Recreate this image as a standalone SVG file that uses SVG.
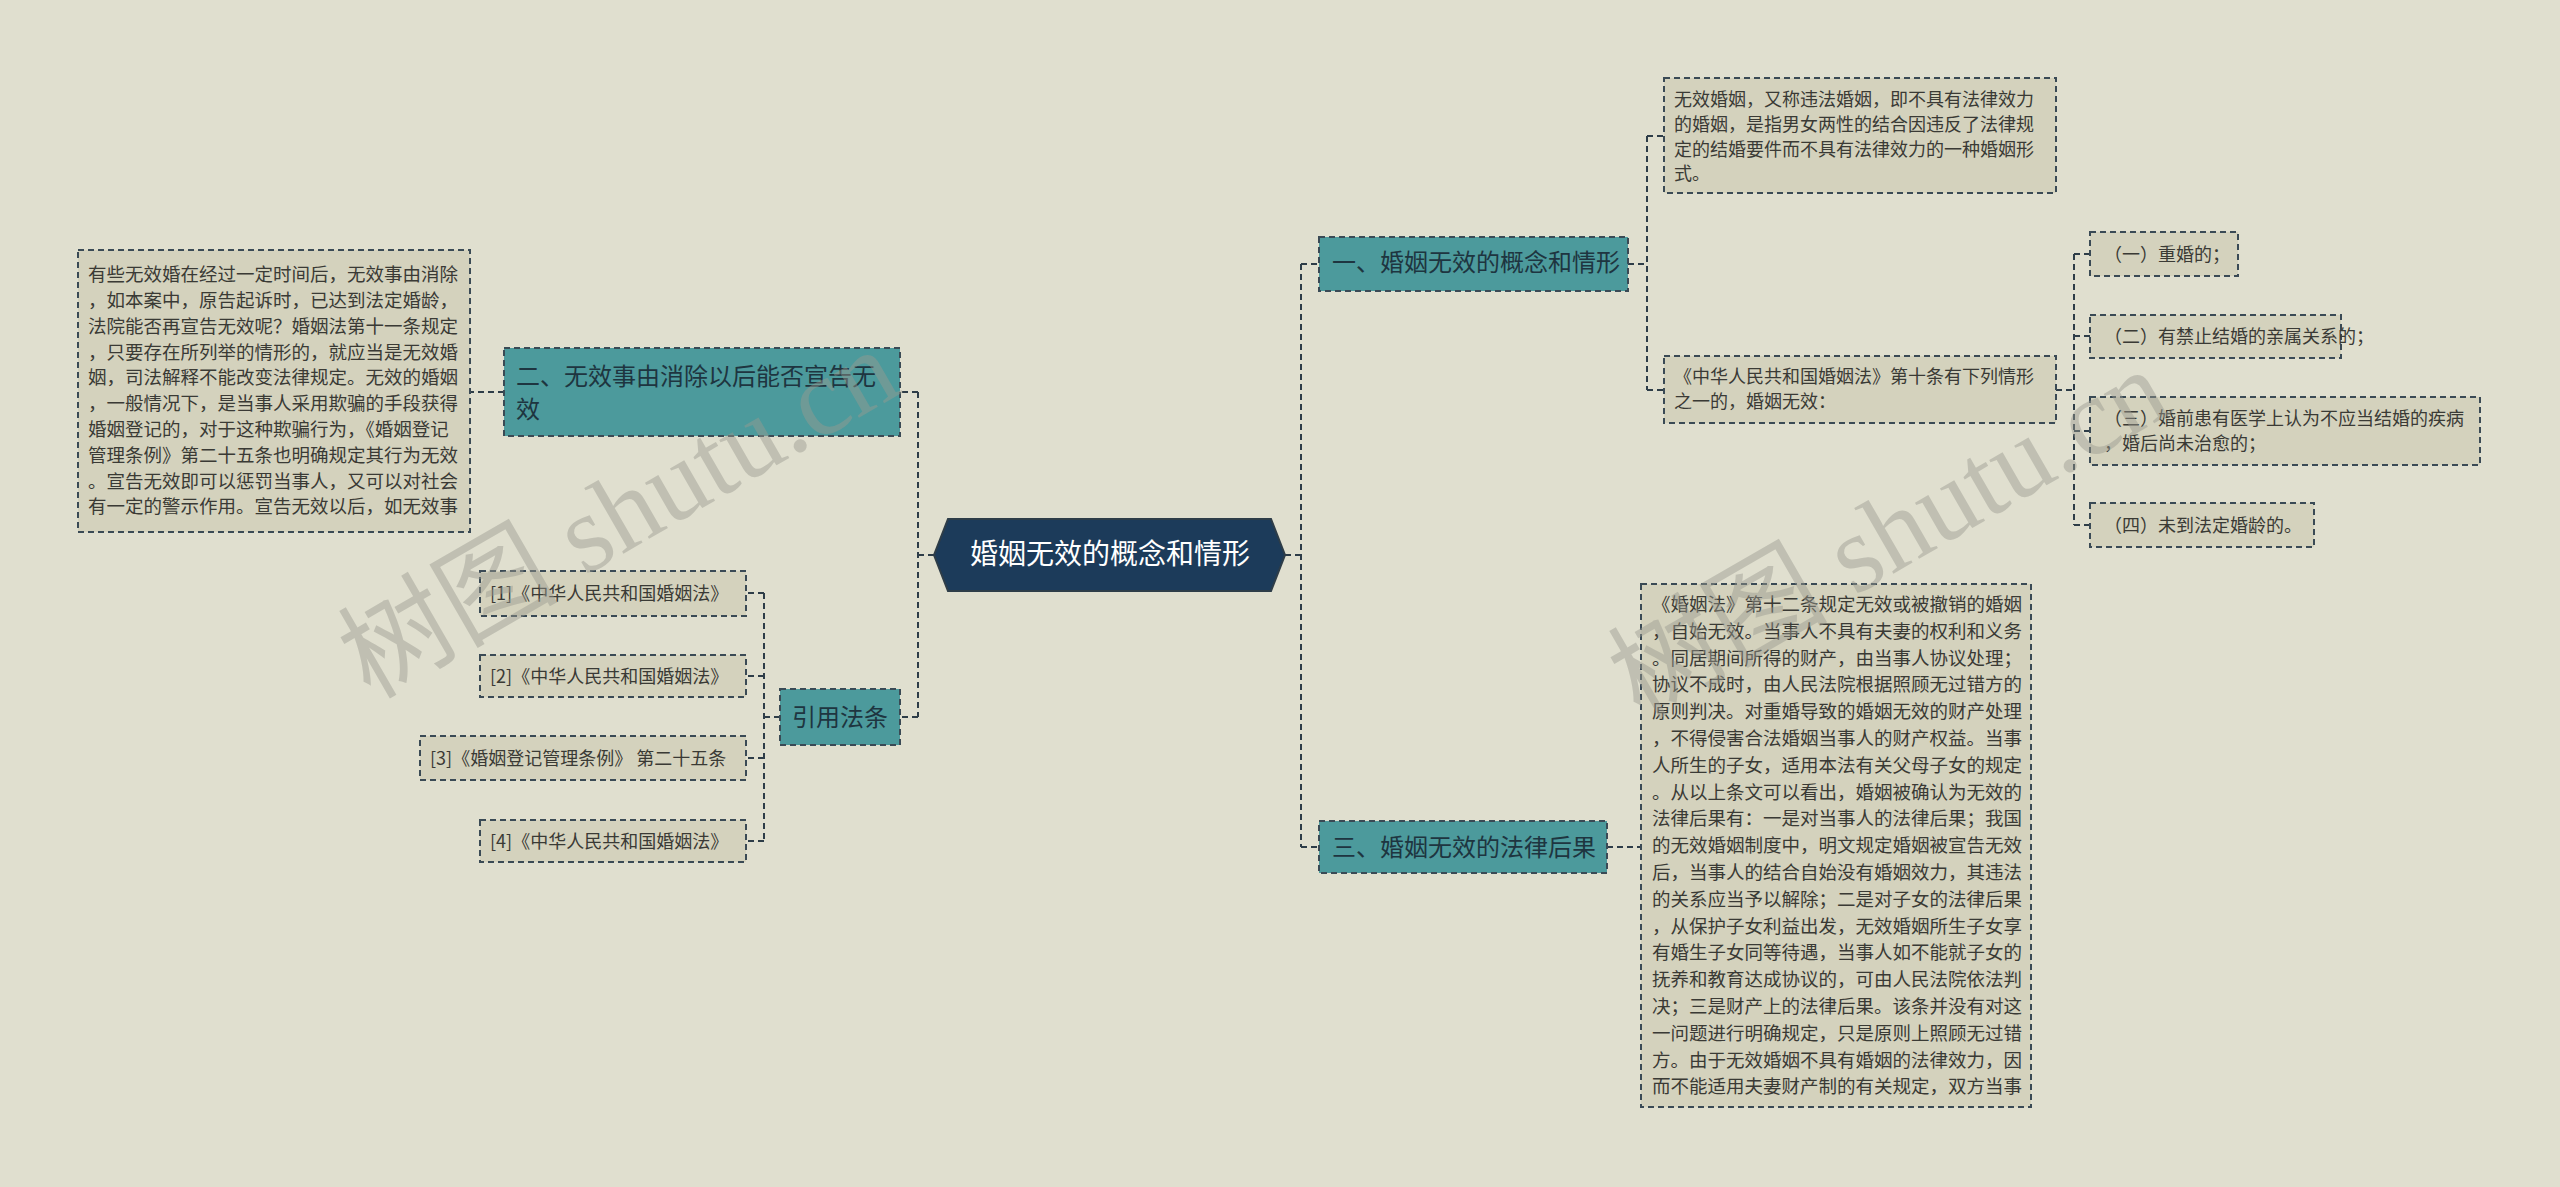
<svg xmlns="http://www.w3.org/2000/svg" width="2560" height="1187" viewBox="0 0 2560 1187">
<style>
text{font-family:"Noto Sans CJK SC","Liberation Sans",sans-serif;fill:#3a3a35}
.box{fill:#d4d2bd;stroke:#3a4a55;stroke-width:2;stroke-dasharray:6 4}
.node{fill:#4c9a9c;stroke:#3a4a55;stroke-width:2;stroke-dasharray:6 4}
.s{font-size:18px}
.n{font-size:24px;fill:#1e3540}
.c{fill:none;stroke:#2e3d48;stroke-width:2;stroke-dasharray:6 4}
.wm{font-size:110px;fill:#9a9a90;opacity:0.45;font-family:"Liberation Serif","Noto Sans CJK SC",serif}
</style>
<rect width="2560" height="1187" fill="#e0dfcf"/>
<g id="connectors">
<path class="c" d="M1285 555H1301M1301 264V847M1301 264H1319M1301 847H1319"/>
<path class="c" d="M934 555H918M918 392V717M918 392H900M918 717H900"/>
<path class="c" d="M1628 264H1647M1647 136V390M1647 136H1664M1647 390H1664"/>
<path class="c" d="M2056 390H2074M2074 254V525M2074 254H2090M2074 336H2090M2074 431H2090M2074 525H2090"/>
<path class="c" d="M1607 847H1641"/>
<path class="c" d="M504 392H470"/>
<path class="c" d="M780 717H764M764 593V841M764 593H746M764 676H746M764 758H746M764 841H746"/>
</g>
<g id="root"><polygon points="948,519 1271,519 1285,555 1271,591 948,591 934,555" fill="#1c3b5a" stroke="#2e3d48" stroke-width="2"/>
<text x="1110" y="564" font-size="28" text-anchor="middle" style="fill:#ffffff">婚姻无效的概念和情形</text></g>
<g id="n1"><rect class="node" x="1319" y="237" width="309" height="54"/><text class="n" x="1332" y="271">一、婚姻无效的概念和情形</text></g>
<g id="n1a"><rect class="box" x="1664" y="78" width="392" height="115"/>
<text class="s" x="1674"><tspan x="1674" y="106">无效婚姻，又称违法婚姻，即不具有法律效力</tspan><tspan x="1674" y="131">的婚姻，是指男女两性的结合因违反了法律规</tspan><tspan x="1674" y="156">定的结婚要件而不具有法律效力的一种婚姻形</tspan><tspan x="1674" y="180">式。</tspan></text></g>
<g id="n1b"><rect class="box" x="1664" y="356" width="392" height="67"/>
<text class="s"><tspan x="1674" y="383">《中华人民共和国婚姻法》第十条有下列情形</tspan><tspan x="1674" y="408">之一的，婚姻无效：</tspan></text></g>
<g id="c1"><rect class="box" x="2090" y="232" width="148" height="44"/><text class="s" x="2104" y="261">（一）重婚的；</text></g>
<g id="c2"><rect class="box" x="2090" y="315" width="251" height="43"/><text class="s" x="2104" y="343">（二）有禁止结婚的亲属关系的；</text></g>
<g id="c3"><rect class="box" x="2090" y="397" width="390" height="68"/><text class="s"><tspan x="2104" y="425">（三）婚前患有医学上认为不应当结婚的疾病</tspan><tspan x="2104" y="450">，婚后尚未治愈的；</tspan></text></g>
<g id="c4"><rect class="box" x="2090" y="503" width="224" height="44"/><text class="s" x="2104" y="532">（四）未到法定婚龄的。</text></g>
<g id="n3"><rect class="node" x="1319" y="821" width="288" height="52"/><text class="n" x="1332" y="856">三、婚姻无效的法律后果</text></g>
<g id="n3a"><rect class="box" x="1641" y="584" width="390" height="523"/>
<text style="font-size:18.5px"><tspan x="1652" y="611">《婚姻法》第十二条规定无效或被撤销的婚姻</tspan><tspan x="1652" y="638">，自始无效。当事人不具有夫妻的权利和义务</tspan><tspan x="1652" y="665">。同居期间所得的财产，由当事人协议处理；</tspan><tspan x="1652" y="691">协议不成时，由人民法院根据照顾无过错方的</tspan><tspan x="1652" y="718">原则判决。对重婚导致的婚姻无效的财产处理</tspan><tspan x="1652" y="745">，不得侵害合法婚姻当事人的财产权益。当事</tspan><tspan x="1652" y="772">人所生的子女，适用本法有关父母子女的规定</tspan><tspan x="1652" y="799">。从以上条文可以看出，婚姻被确认为无效的</tspan><tspan x="1652" y="825">法律后果有：一是对当事人的法律后果；我国</tspan><tspan x="1652" y="852">的无效婚姻制度中，明文规定婚姻被宣告无效</tspan><tspan x="1652" y="879">后，当事人的结合自始没有婚姻效力，其违法</tspan><tspan x="1652" y="906">的关系应当予以解除；二是对子女的法律后果</tspan><tspan x="1652" y="933">，从保护子女利益出发，无效婚姻所生子女享</tspan><tspan x="1652" y="959">有婚生子女同等待遇，当事人如不能就子女的</tspan><tspan x="1652" y="986">抚养和教育达成协议的，可由人民法院依法判</tspan><tspan x="1652" y="1013">决；三是财产上的法律后果。该条并没有对这</tspan><tspan x="1652" y="1040">一问题进行明确规定，只是原则上照顾无过错</tspan><tspan x="1652" y="1067">方。由于无效婚姻不具有婚姻的法律效力，因</tspan><tspan x="1652" y="1093">而不能适用夫妻财产制的有关规定，双方当事</tspan></text>
<text style="font-size:18.5px"><tspan x="1652" y="1093" visibility="hidden"> </tspan></text></g>
<g id="n2"><rect class="node" x="504" y="348" width="396" height="88"/><text class="n"><tspan x="516" y="385">二、无效事由消除以后能否宣告无</tspan><tspan x="516" y="418">效</tspan></text></g>
<g id="n2a"><rect class="box" x="78" y="250" width="392" height="282"/>
<text style="font-size:18.5px"><tspan x="88" y="281">有些无效婚在经过一定时间后，无效事由消除</tspan><tspan x="88" y="307">，如本案中，原告起诉时，已达到法定婚龄，</tspan><tspan x="88" y="333">法院能否再宣告无效呢？婚姻法第十一条规定</tspan><tspan x="88" y="359">，只要存在所列举的情形的，就应当是无效婚</tspan><tspan x="88" y="384">姻，司法解释不能改变法律规定。无效的婚姻</tspan><tspan x="88" y="410">，一般情况下，是当事人采用欺骗的手段获得</tspan><tspan x="88" y="436">婚姻登记的，对于这种欺骗行为，《婚姻登记</tspan><tspan x="88" y="462">管理条例》第二十五条也明确规定其行为无效</tspan><tspan x="88" y="488">。宣告无效即可以惩罚当事人，又可以对社会</tspan><tspan x="88" y="513">有一定的警示作用。宣告无效以后，如无效事</tspan></text></g>
<g id="n4"><rect class="node" x="780" y="689" width="120" height="56"/><text class="n" x="792" y="726">引用法条</text></g>
<g id="r1"><rect class="box" x="480" y="571" width="266" height="45"/><text class="s" x="490" y="600">[1]《中华人民共和国婚姻法》</text></g>
<g id="r2"><rect class="box" x="480" y="655" width="266" height="42"/><text class="s" x="490" y="683">[2]《中华人民共和国婚姻法》</text></g>
<g id="r3"><rect class="box" x="420" y="736" width="326" height="44"/><text class="s" x="430" y="765">[3]《婚姻登记管理条例》 第二十五条</text></g>
<g id="r4"><rect class="box" x="480" y="820" width="266" height="42"/><text class="s" x="490" y="848">[4]《中华人民共和国婚姻法》</text></g>
<text class="wm" transform="translate(370,700) rotate(-30)">树图 shutu.cn</text>
<text class="wm" transform="translate(1640,720) rotate(-30)">树图 shutu.cn</text>
</svg>
